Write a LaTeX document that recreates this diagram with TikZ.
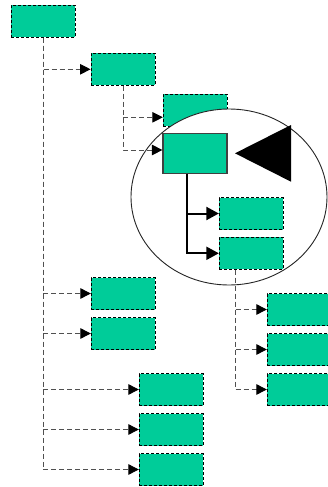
\documentclass[tikz,border=0pt]{standalone}
\usetikzlibrary{arrows.meta,shapes.geometric}
\definecolor{boxgreen}{RGB}{0,204,153}
\definecolor{connGray}{RGB}{80,80,80}
\tikzset{
  box/.style={rectangle, fill=boxgreen, draw=black, line width=0.9pt,
    dash pattern=on 3pt off 2pt, minimum width=64pt, minimum height=32pt, inner sep=0pt},
  selbox/.style={rectangle, fill=boxgreen, draw=black!75, line width=1.2pt,
    minimum width=64pt, minimum height=40pt, inner sep=0pt},
  dconn/.style={draw=connGray, line width=0.9pt, dash pattern=on 5pt off 3pt,
    -{Triangle[length=10.5pt,width=10.5pt,fill=black,color=black]}},
  sconn/.style={draw=black, line width=2pt,
    -{Triangle[length=12.5pt,width=13pt,fill=black]}},
  lensstyle/.style={ellipse, draw=black!85, line width=0.9pt, fill=white,
    minimum width=196pt, minimum height=176pt, inner sep=0pt}
}
\begin{document}
\begin{tikzpicture}[x=1pt,y=-1pt]
\useasboundingbox (0,0) rectangle (328,487);
\clip (0,0) rectangle (328,487);
\fill[white] (0,0) rectangle (328,487);
% boxes under the lens
\node[box] (root) at (43,21.5) {};
\node[box] (b2) at (123,69.3) {};
\node[box] (b3) at (195.3,110) {};
\node[box] (b7) at (123.3,293.5) {};
\node[box] (b8) at (123.3,333.5) {};
\node[box] (b9) at (171.3,389.5) {};
\node[box] (b10) at (171.3,429.5) {};
\node[box] (b11) at (171.3,469.5) {};
\node[box] (b12) at (299.3,309.5) {};
\node[box] (b13) at (299.3,349.5) {};
\node[box] (b14) at (299.3,389.5) {};
% magnifying lens
\node[lensstyle] (lens) at (229,197) {};
\node[selbox] (b4) at (195,153.3) {};
\node[box] (b5) at (251.3,213.5) {};
\node[box] (b6) at (251.3,253.3) {};
\fill[black] (235,153.3) -- (291,125) -- (291,181.7) -- cycle;
% dashed connectors from root
\foreach \t in {b2,b7,b8,b9,b10,b11}
  \draw[dconn] (root) |- (\t.west);
% dashed connectors from b2
\draw[dconn] (b2) |- ([yshift=-7.3pt]b3.west);
\draw[dconn] (b2) |- ([yshift=3.3pt]b4.west);
% solid connectors from b4
\draw[sconn] ([xshift=-8pt]b4.south) |- (b5.west);
\draw[sconn] ([xshift=-8pt]b4.south) |- (b6.west);
% dashed connectors from b6
\foreach \t in {b12,b13,b14}
  \draw[dconn] ([xshift=-16pt]b6.south) |- (\t.west);
\end{tikzpicture}
\end{document}
